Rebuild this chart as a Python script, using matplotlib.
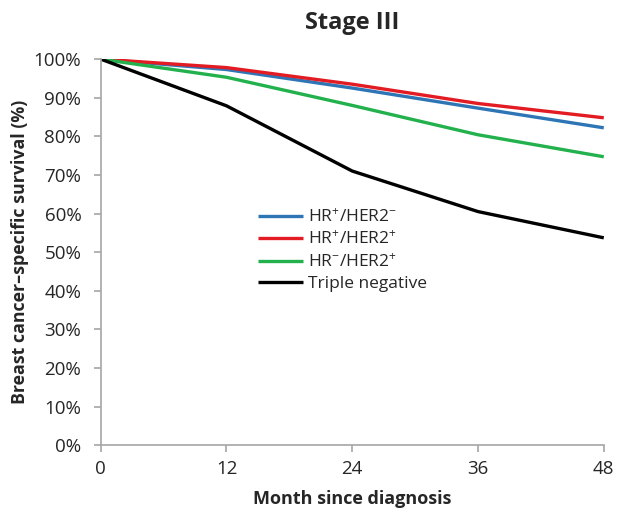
import numpy as np
import matplotlib
matplotlib.use('Agg')
import matplotlib.pyplot as plt
from matplotlib.ticker import PercentFormatter

plt.rcParams['font.family'] = ['Open Sans', 'DejaVu Sans']
plt.rcParams['mathtext.fontset'] = 'custom'
plt.rcParams['mathtext.rm'] = 'Open Sans'
plt.rcParams['mathtext.it'] = 'Open Sans'

# survival (%) by months since diagnosis, stage III
months = [0, 12, 24, 36, 48]
hr_pos_her2_neg = [100, 97.3, 92.5, 87.3, 82.2]
hr_pos_her2_pos = [100, 97.8, 93.5, 88.5, 84.8]
hr_neg_her2_pos = [100, 95.3, 88.0, 80.4, 74.7]
triple_neg = [100, 87.9, 71.0, 60.5, 53.7]

labels = [r'HR$^{+}$/HER2$^{-}$', r'HR$^{+}$/HER2$^{+}$',
          r'HR$^{-}$/HER2$^{+}$', 'Triple negative']
colors = ['#2e75b6', '#e31b23', '#22b14c', '#000000']

fig = plt.figure(figsize=(6.18, 5.14), dpi=100)
ax = fig.add_axes([0.163, 0.134, 0.814, 0.751])

for y, lab, c in zip([hr_pos_her2_neg, hr_pos_her2_pos, hr_neg_her2_pos, triple_neg], labels, colors):
    ax.plot(months, y, color=c, lw=2.4, label=lab, solid_capstyle='butt')

ax.set_xlim(0, 48)
ax.set_ylim(0, 100)
ax.set_xticks(months)
ax.set_yticks(np.arange(0, 101, 10))
ax.yaxis.set_major_formatter(PercentFormatter(decimals=0))

for s in ['top', 'right']:
    ax.spines[s].set_visible(False)
for s in ['left', 'bottom']:
    ax.spines[s].set_color('#a6a6a6')
    ax.spines[s].set_linewidth(1.2)
ax.tick_params(axis='both', colors='#a6a6a6', length=5, width=1.2,
               labelcolor='#262626', labelsize=13.5)
ax.tick_params(axis='x', pad=6)
ax.tick_params(axis='y', pad=9)

ax.set_title('Stage III', fontsize=17, fontweight='bold', pad=22, color='#262626')
ax.set_xlabel('Month since diagnosis', fontsize=13, fontweight='bold', labelpad=8, color='#262626')
ax.set_ylabel('Breast cancer\u2013specific survival (%)', fontsize=12.8, fontweight='bold',
              labelpad=3, color='#262626')

ax.legend(loc='upper left', bbox_to_anchor=(0.418, 0.594), bbox_transform=fig.transFigure,
          frameon=False, fontsize=12.5, handlelength=2.6, handletextpad=0.25,
          labelspacing=0.3, borderaxespad=0, borderpad=0, labelcolor='#262626')

fig.savefig('out.png', dpi=100)
